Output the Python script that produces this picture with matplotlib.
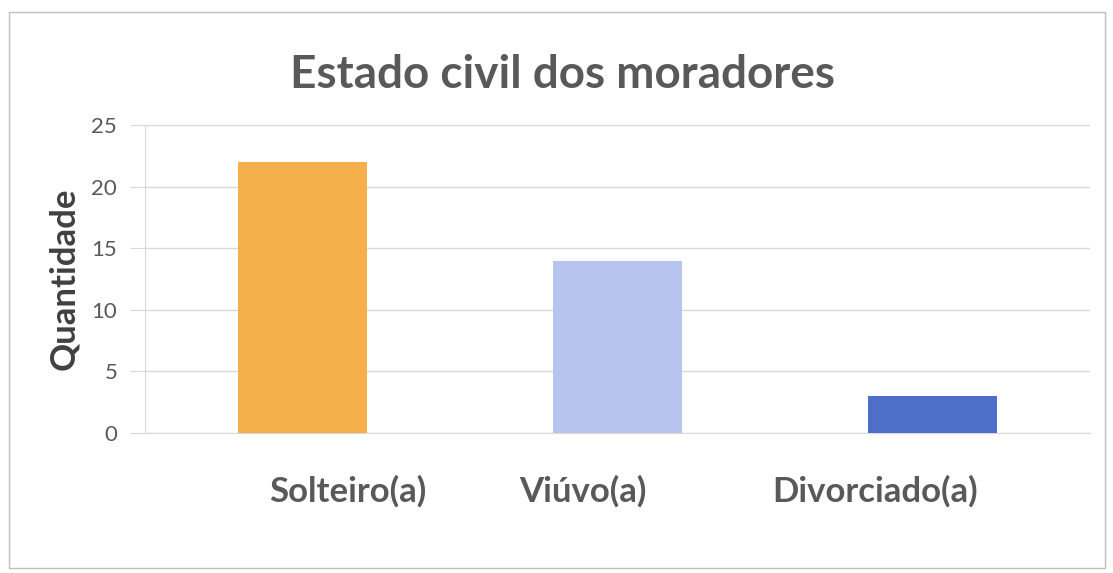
import matplotlib
matplotlib.use("Agg")
import matplotlib.pyplot as plt
from matplotlib.patches import Rectangle
from matplotlib.transforms import ScaledTranslation

categories = ["Solteiro(a)", "Viúvo(a)", "Divorciado(a)"]
values = [22, 14, 3]
colors = ["#F5B04B", "#B6C4EE", "#4D6FC9"]
yticks = [0, 5, 10, 15, 20, 25]

plt.rcParams["font.family"] = ["Lato", "DejaVu Sans"]

W, H = 1113, 573
fig = plt.figure(figsize=(W / 100, H / 100), dpi=100)
fig.patch.set_facecolor("white")

# outer chart frame
fig.patches.append(Rectangle((9 / W, 5 / H), 1096 / W, 556 / H, transform=fig.transFigure,
                             fill=False, edgecolor="#BFBFBF", linewidth=1.0))

ax = fig.add_axes([145 / W, (H - 433) / H, 945 / W, (433 - 125) / H])
x = range(len(categories))
ax.bar(x, values, width=0.41, color=colors, zorder=3)

ax.set_xlim(-0.5, len(categories) - 0.5)
ax.set_ylim(0, 25)
ax.set_yticks(yticks)
ax.set_yticklabels([str(t) for t in yticks], fontsize=16, color="#595959")
ax.yaxis.grid(True, color="#D9D9D9", linewidth=1.0, zorder=0)
ax.tick_params(axis="y", length=11, color="#D9D9D9", pad=9)
ax.tick_params(axis="x", length=0, pad=30)
ax.set_xticks(list(x))
ax.set_xticklabels(categories, fontsize=25, fontweight="bold", color="#595959")

# nudge category labels sideways
shifts_px = [45, -35, -57]
for lbl, dx in zip(ax.get_xticklabels(), shifts_px):
    lbl.set_transform(lbl.get_transform() + ScaledTranslation(dx / 100, 0, fig.dpi_scale_trans))

for side in ["top", "right"]:
    ax.spines[side].set_visible(False)
ax.spines["left"].set_color("#D9D9D9")
ax.spines["bottom"].set_color("#D9D9D9")

ax.set_ylabel("Quantidade", fontsize=25, fontweight="bold", color="#404040", labelpad=8)

fig.text(563 / W, 1 - 75 / H, "Estado civil dos moradores", ha="center", va="center",
         fontsize=33, fontweight="bold", color="#595959")

fig.savefig("out.png", dpi=100)
